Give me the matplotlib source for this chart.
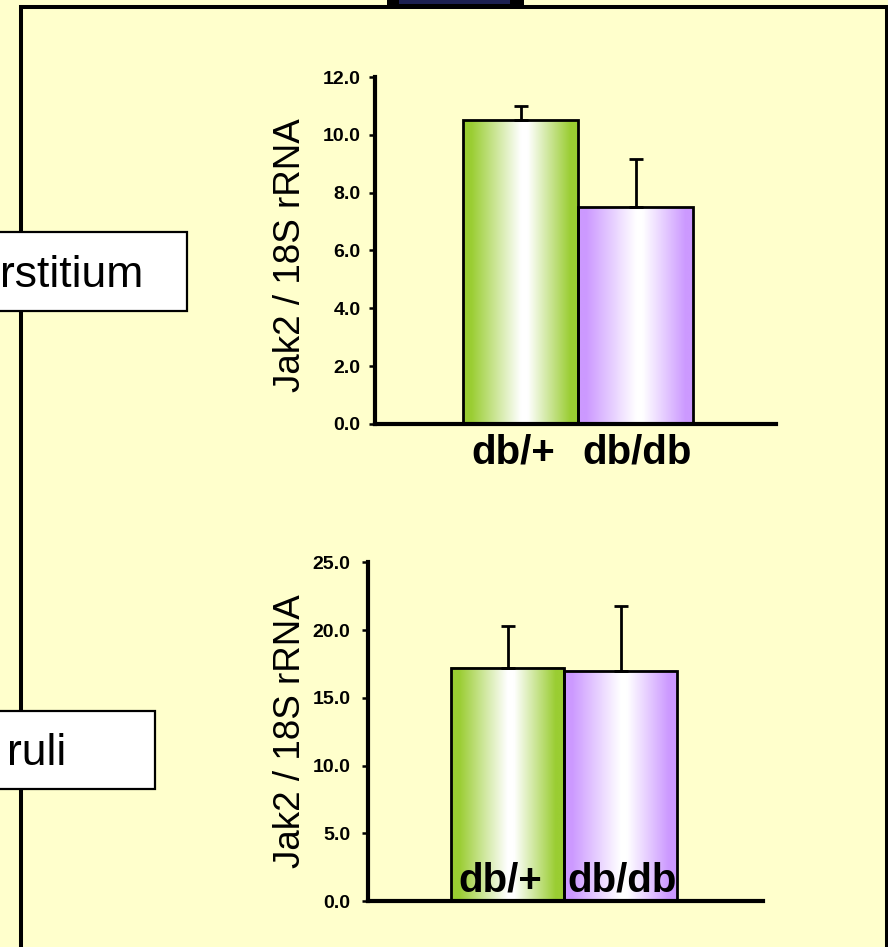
import numpy as np
import matplotlib
matplotlib.use("Agg")
import matplotlib.pyplot as plt
from matplotlib.patches import Rectangle
from matplotlib.colors import to_rgb
from matplotlib.transforms import offset_copy
from matplotlib import font_manager

# ---- data -------------------------------------------------------------
groups = ["db/+", "db/db"]
interstitium_mean = [10.5, 7.5]
interstitium_err = [0.5, 1.65]
glomeruli_mean = [17.2, 17.0]
glomeruli_err = [3.1, 4.75]
interstitium_ticks = [0, 2, 4, 6, 8, 10, 12]
glomeruli_ticks = [0, 5, 10, 15, 20, 25]
ylabel_text = "Jak2 / 18S rRNA"
panel_names = ["rstitium", "ruli"]
bar_colors = ["#9ACD32", "#CC99FF"]

# ---- canvas -----------------------------------------------------------
W, H = 888, 947
BG = "#FFFFCC"
plt.rcParams["font.family"] = ["Liberation Sans", "DejaVu Sans"]

installed = {f.name for f in font_manager.fontManager.ttflist}
if "Liberation Sans Narrow" in installed:
    cat_font = dict(family=["Liberation Sans Narrow", "Liberation Sans"], size=36)
else:
    cat_font = dict(family=["Liberation Sans", "DejaVu Sans"], size=29)
label_shift_px = [-8, 1]

fig = plt.figure(figsize=(W / 100, H / 100), dpi=100, facecolor=BG)


def fx(px):
    return px / W


def fy(py):
    return 1 - py / H


def fig_rect(x0, y0, x1, y1, **kw):
    r = Rectangle((fx(x0), fy(y1)), fx(x1) - fx(x0), fy(y0) - fy(y1),
                  transform=fig.transFigure, **kw)
    fig.add_artist(r)
    return r


# slide frame and top tab
fig_rect(21, 7, 887, 980, fill=False, edgecolor="black", linewidth=2.9, zorder=1)
fig_rect(387, -2, 524, 9, facecolor="black", edgecolor="none", zorder=2)
fig_rect(399, -2, 510, 4, facecolor="#1c2050", edgecolor="none", zorder=3)


def gradient_row(color, n=256):
    t = np.linspace(0, 1, n)
    w = np.interp(t, [0, 0.07, 0.5, 0.56, 0.93, 1], [0, 0, 1, 1, 0, 0])
    rgb = np.array(to_rgb(color))
    row = rgb[None, :] * (1 - w[:, None]) + w[:, None]
    return row[None, :, :]


def bar_panel(rect_px, xlim, means, errs, ticks, tick_pad, label_mode):
    x0, y0, x1, y1 = rect_px
    ax = fig.add_axes([fx(x0), fy(y1), fx(x1) - fx(x0), fy(y0) - fy(y1)])
    ax.patch.set_alpha(0)
    xs = np.arange(len(groups))
    bars = ax.bar(xs, means, width=1.0, facecolor="none", edgecolor="black",
                  linewidth=2.0, zorder=3)
    for b, c in zip(bars, bar_colors):
        ax.imshow(gradient_row(c), extent=(b.get_x(), b.get_x() + b.get_width(),
                                           0, b.get_height()),
                  aspect="auto", interpolation="bilinear", zorder=2)
    ax.errorbar(xs, means, yerr=[np.zeros(len(errs)), errs], fmt="none",
                ecolor="black", elinewidth=2.0, capsize=4.7, capthick=2.0, zorder=4)
    ax.set_xlim(*xlim)
    ax.set_ylim(ticks[0], ticks[-1])
    ax.set_yticks(ticks)
    ax.set_yticklabels([f"{t:.1f}" for t in ticks], fontweight="bold", fontsize=14)
    ax.set_xticks([])
    ax.tick_params(axis="y", direction="out", length=4.3, width=1.8, pad=tick_pad)
    for s in ("top", "right"):
        ax.spines[s].set_visible(False)
    for s in ("left", "bottom"):
        ax.spines[s].set_linewidth(3)
    base = ax.get_xaxis_transform()
    for x, g, dx in zip(xs, groups, label_shift_px):
        tr = offset_copy(base, fig=fig, x=dx, y=0, units="dots")
        if label_mode == "below":
            ax.text(x, -0.026, g, transform=tr, ha="center", va="top",
                    fontweight="bold", **cat_font)
        else:
            ax.text(x, 0.0275, g, transform=tr, ha="center", va="baseline",
                    fontweight="bold", zorder=5, **cat_font)
    return ax


bar_panel((375, 77, 776, 424), (-1.267, 2.218), interstitium_mean,
          interstitium_err, interstitium_ticks, 6.0, "below")
bar_panel((367.7, 562.3, 763, 901), (-1.2416, 2.257), glomeruli_mean,
          glomeruli_err, glomeruli_ticks, 8.0, "inside")

for yc in (255, 731.5):
    fig.text(fx(291), fy(yc), ylabel_text, rotation=90, ha="center", va="center",
             fontsize=26.5)

# panel name boxes on the left
for (top, bottom, right, tx, base_y), name in zip(
        [(232, 311, 187, 143, 287), (711, 789, 155, 66, 765)], panel_names):
    fig_rect(-5, top, right, bottom, facecolor="white", edgecolor="black",
             linewidth=1.6, zorder=4)
    fig.text(fx(tx), fy(base_y), name, ha="right", va="baseline", fontsize=32,
             zorder=5)

fig.savefig("out.png", dpi=100, facecolor=BG)
